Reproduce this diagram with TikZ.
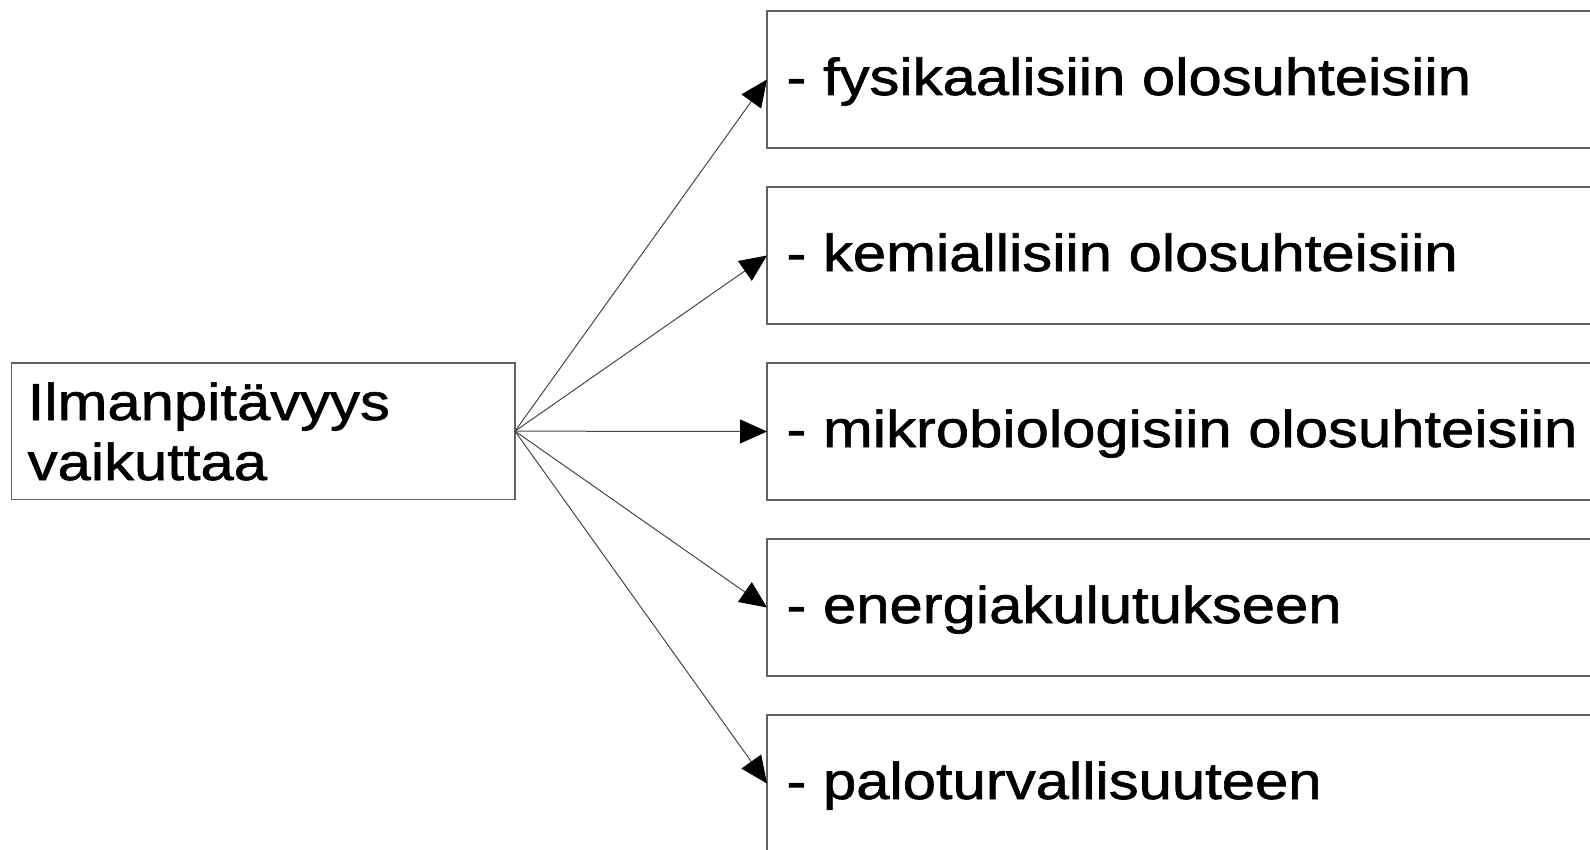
\documentclass[tikz,border=0pt]{standalone}
\usepackage{fontspec}
\setmainfont{Liberation Sans}[FakeStretch=1.15,FakeBold=1.2]
\usetikzlibrary{arrows.meta}
\begin{document}
\begin{tikzpicture}[x=0.5pt,y=-0.5pt,
  box/.style={draw=black!62, line width=0.6pt, inner sep=0pt, outer sep=0pt, anchor=north west},
  rbox/.style={box, minimum width=416.5pt, minimum height=68.5pt},
  lbl/.style={anchor=base west, inner sep=0pt, outer sep=0pt, font=\fontsize{26}{30}\selectfont, text=black},
  conn/.style={draw=black!72, line width=0.5pt, -{Triangle[length=13.5pt,width=12pt,black]}}]
\path[use as bounding box] (0,0) rectangle (1590,850);
\clip (0,0) rectangle (1590,850);
% source box
\node[box, minimum width=251.75pt, minimum height=68.15pt] (src) at (11.5,363) {};
\node[lbl, align=left] (srct) at (27.7,480) {Ilmanpitävyys\\vaikuttaa};
% target boxes
\node[rbox] (b1) at (767,11) {};
\node[rbox] (b2) at (767,187) {};
\node[rbox] (b3) at (767,363) {};
\node[rbox] (b4) at (767,539) {};
\node[rbox] (b5) at (767,715) {};
\node[lbl] (t1) at (786.5,95) {- fysikaalisiin olosuhteisiin};
\node[lbl] (t2) at (786.5,271) {- kemiallisiin olosuhteisiin};
\node[lbl] (t3) at (786.5,447) {- mikrobiologisiin olosuhteisiin};
\node[lbl] (t4) at (786.5,623) {- energiakulutukseen};
\node[lbl] (t5) at (786.5,799) {- paloturvallisuuteen};
% connectors
\foreach \b in {b1,b2,b3,b4,b5}
  \draw[conn] (src.east) -- (\b.west);
\end{tikzpicture}
\end{document}
